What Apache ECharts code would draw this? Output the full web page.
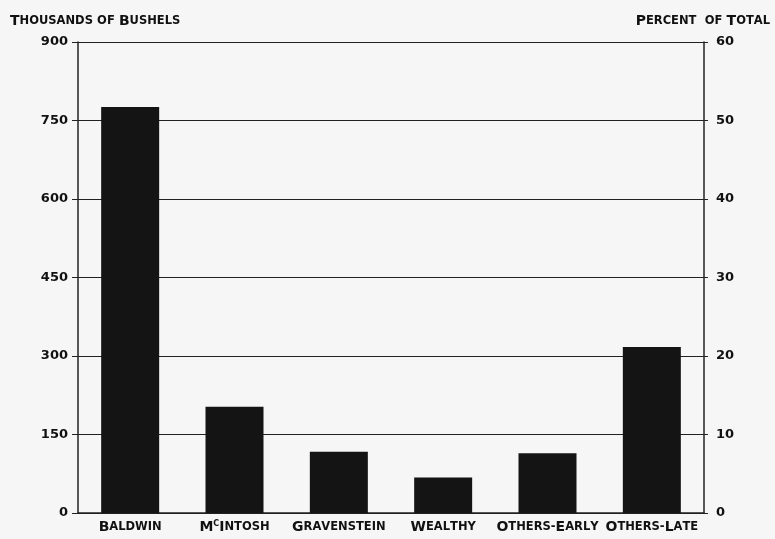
<!DOCTYPE html>
<html><head><meta charset="utf-8">
<script src="https://cdn.jsdelivr.net/npm/echarts@6/dist/echarts.min.js"></script>
<style>html,body{margin:0;padding:0;background:#f6f6f6}#c{width:775px;height:539px}</style>
</head><body><div id="c"></div>
<script>
const categories = ["Baldwin", "McIntosh", "Gravenstein", "Wealthy", "Others-Early", "Others-Late"];
const bushels = [776, 203, 117, 68, 114, 317];
const leftTicks = [0, 150, 300, 450, 600, 750, 900];
const rightTicks = [0, 10, 20, 30, 40, 50, 60];
const leftTitle = "Thousands of Bushels";
const rightTitle = "Percent  of Total";

const FONT = "DejaVu Sans";
function smallCaps(s) {
  let out = "";
  let i = 0;
  for (const ch of s) {
    if (ch === " ") { out += "{sp| }"; i++; continue; }
    if (ch === "c" && i === 1 && s.startsWith("Mc")) { out += "{sup|C}"; i++; continue; }
    if (ch >= "A" && ch <= "Z") out += "{b|" + ch + "}";
    else out += "{s|" + ch.toUpperCase() + "}";
    i++;
  }
  return out;
}
const rich = {
  b: { fontFamily: FONT, fontWeight: "bold", fontSize: 14, color: "#111" },
  s: { fontFamily: FONT, fontWeight: "bold", fontSize: 11.5, color: "#111" },
  sp: { fontFamily: FONT, fontSize: 12, color: "#111" },
  sup: { fontFamily: FONT, fontWeight: "bold", fontSize: 8, color: "#111", verticalAlign: "top", padding: [0, 0, 6, 0] }
};

const chart = echarts.init(document.getElementById("c"));
chart.setOption({
  backgroundColor: "#f6f6f6",
  animation: false,
  title: [
    { text: smallCaps(leftTitle), left: 5, top: 9, textStyle: { rich } },
    { text: smallCaps(rightTitle), right: 0, top: 9, textStyle: { rich } }
  ],
  grid: { left: 78, right: 71, top: 42, bottom: 26 },
  xAxis: {
    type: "category",
    data: categories,
    axisTick: { show: false },
    axisLine: { lineStyle: { color: "#222", width: 1.5 } },
    axisLabel: { margin: 7, formatter: v => smallCaps(v), rich, interval: 0 }
  },
  yAxis: [
    {
      type: "value", min: 0, max: 900, interval: 150, position: "left",
      axisLine: { show: true, lineStyle: { color: "#222", width: 1.5 } },
      axisTick: { show: true, length: 6, lineStyle: { color: "#222" } },
      splitLine: { lineStyle: { color: "#222", width: 1 } },
      axisLabel: { margin: 10, fontFamily: FONT, fontWeight: "bold", fontSize: 13, color: "#111",
        formatter: v => leftTicks.includes(v) ? String(v) : "" }
    },
    {
      type: "value", min: 0, max: 60, interval: 10, position: "right",
      axisLine: { show: true, lineStyle: { color: "#222", width: 1.5 } },
      axisTick: { show: true, length: 4, lineStyle: { color: "#222" } },
      splitLine: { show: false },
      axisLabel: { margin: 12, fontFamily: FONT, fontWeight: "bold", fontSize: 13, color: "#111",
        formatter: v => rightTicks.includes(v) ? String(v) : "" }
    }
  ],
  series: [{
    type: "bar",
    data: bushels,
    barWidth: 58,
    itemStyle: { color: "#141414" },
    z: 3
  }]
});
</script></body></html>
